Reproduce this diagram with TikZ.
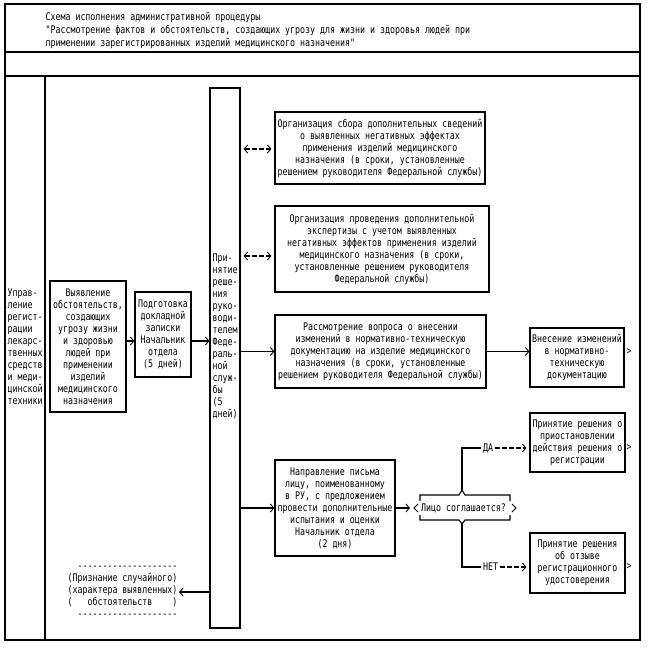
\documentclass[tikz,border=0pt]{standalone}
\usepackage{fontspec}
\newfontfamily\cadfont[FakeStretch=0.79,Ligatures=TeXOff]{DejaVu Sans Mono}
\usetikzlibrary{arrows.meta,calc}
\begin{document}
\begin{tikzpicture}[x=1pt,y=-1pt,line width=1.1pt,
  every node/.style={font=\cadfont\fontsize{10.5}{12}\selectfont,inner sep=0pt},
  box/.style={draw,align=center},
  >={Straight Barb[length=3.5pt,width=8pt,line width=0.9pt]},
  dsh/.style={dash pattern=on 5pt off 2pt}]
\useasboundingbox (0,0) rectangle (646,648);
% frame
\draw (5,4) rectangle (640,640);
\draw (5,52) -- (640,52);
\draw (5,76) -- (640,76);
\draw (45,76) -- (45,640);
% title
\node[anchor=west,align=left,font=\cadfont\fontsize{10.5}{13}\selectfont] (title) at (45,30)
 {Схема исполнения административной процедуры\\
  "Рассмотрение фактов и обстоятельств, создающих угрозу для жизни и здоровья людей при\\
  применении зарегистрированных изделий медицинского назначения"};
% left column
\node[anchor=west,align=left] (lane) at (7,347)
 {Управ-\\ление\\регист-\\рации\\лекарс-\\твенных\\средств\\и меди-\\цинской\\техники};
% boxes
\node[box,minimum width=76pt,minimum height=131pt] (A) at (88,346.5)
 {Выявление\\обстоятельств,\\создающих\\угрозу жизни\\и здоровью\\людей при\\применении\\изделий\\медицинского\\назначения};
\node[box,minimum width=56pt,minimum height=85pt] (B) at (163,334.5)
 {Подготовка\\докладной\\записки\\Начальник\\отдела\\(5 дней)};
\node[draw,minimum width=30pt,minimum height=540pt] (T) at (225,358) {};
\node[anchor=west,align=left] (Ttext) at (212,336)
 {При-\\нятие\\реше-\\ния\\руко-\\води-\\телем\\Феде-\\раль-\\ной\\служ-\\бы\\(5\\дней)};
\node[box,minimum width=210pt,minimum height=72pt] (b1) at (380,148)
 {Организация сбора дополнительных сведений\\о выявленных негативных эффектах\\применения изделий медицинского\\назначения (в сроки, установленные\\решением руководителя Федеральной службы)};
\node[box,minimum width=214pt,minimum height=86pt] (b2) at (382,249)
 {Организация проведения дополнительной\\экспертизы с учетом выявленных\\негативных эффектов применения изделий\\медицинского назначения (в сроки,\\установленные решением руководителя\\Федеральной службы)};
\node[box,minimum width=211pt,minimum height=73pt] (b3) at (380.5,351.5)
 {Рассмотрение вопроса о внесении\\изменений в нормативно-техническую\\документацию на изделие медицинского\\назначения (в сроки, установленные\\решением руководителя Федеральной службы)};
\node[box,minimum width=94pt,minimum height=59pt] (b4) at (577,357.5)
 {Внесение изменений\\в нормативно-\\техническую\\документацию};
\node[box,minimum width=120pt,minimum height=96pt] (b5) at (335,508)
 {Направление письма\\лицу, поименованному\\в РУ, с предложением\\провести дополнительные\\испытания и оценки\\Начальник отдела\\(2 дня)};
\node[box,minimum width=95pt,minimum height=59pt] (b6) at (577.5,442.5)
 {Принятие решения о\\приостановлении\\действия решения о\\регистрации};
\node[box,minimum width=95pt,minimum height=60pt] (b7) at (577.5,563)
 {Принятие решения\\об отзыве\\регистрационного\\удостоверения};
% decision
\node (dec) at (463.5,508) {Лицо соглашается?};
\coordinate (dl) at (410,508);
\coordinate (dtop) at (462,490);
\coordinate (dbot) at (462,524);
\draw (420,501) -- (420,495) -- (459,495) -- (dtop) -- (465,495) -- (510,495) -- (510,501);
\draw (420,515) -- (420,520) -- (459,520) -- (dbot) -- (465,520) -- (510,520) -- (510,515);
\draw[line width=0.9pt] (418,504) -- (414,508) -- (418,512);
\draw[line width=0.9pt] (512,504) -- (516,508) -- (512,512);
% bottom note
\node[align=left] (note) at (122.5,592)
 {\ \ --------------------\\(Признание случайного)\\(характера выявленных)\\(\ \ \ обстоятельств\ \ \ \ )\\\ \ --------------------};
% yes / no labels
\node (da) at (488,448) {ДА};
\node (net) at (490.5,567) {НЕТ};
% free glyphs at right
\node (g4) at (629,352) {>};
\node (g6) at (629,448) {>};
\node (g7) at (629,567) {>};
% connectors
\coordinate (y1) at (0,341);
\coordinate (yd1) at (0,149);
\coordinate (yd2) at (0,256);
\draw[->] (A.east |- y1) -- (B.west |- y1);
\draw[->] (B.east |- y1) -- (T.west |- y1);
\draw[->] (T.east |- b3.west) -- (b3.west);
\draw[->] (T.east |- b5.west) -- (b5.west);
\draw[->] (b3.east) -- (b3.east -| b4.west);
\draw[<->,dsh,shorten <=3pt,shorten >=3pt] (T.east |- yd1) -- (b1.west |- yd1);
\draw[<->,dsh,shorten <=3pt,shorten >=3pt] (T.east |- yd2) -- (b2.west |- yd2);
\draw[->] (b5.east) -- (dl);
\draw (dtop) |- ([xshift=-1pt]da.west);
\draw[->,dsh,shorten >=3pt] ([xshift=1pt]da.east) -- (da.east -| b6.west);
\draw (dbot) |- ([xshift=-1pt]net.west);
\draw[->,dsh,shorten >=3pt] ([xshift=1pt]net.east) -- (net.east -| b7.west);
\draw[->] (T.west |- note.east) -- ([xshift=1pt]note.east);
\end{tikzpicture}
\end{document}
